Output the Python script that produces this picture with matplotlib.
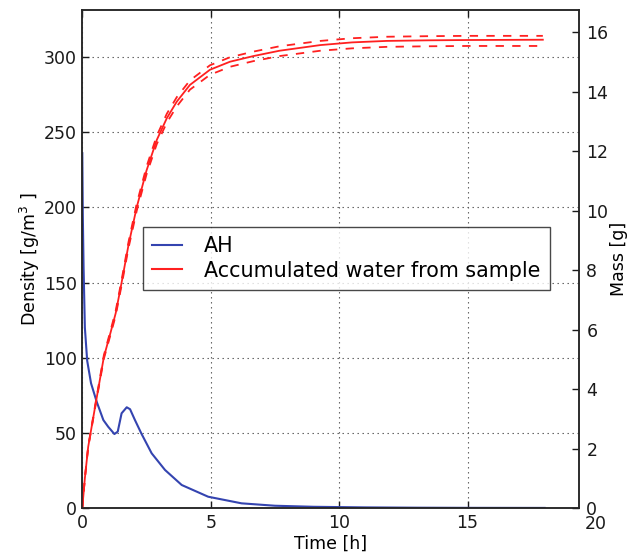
import matplotlib
matplotlib.use("Agg")
import matplotlib.pyplot as plt
from matplotlib.lines import Line2D

plt.rcParams['font.family'] = ['DejaVu Sans']
plt.rcParams['lines.scale_dashes'] = False

# AH (absolute humidity), left axis
ah_time = [0.0, 0.01, 0.02, 0.05, 0.1, 0.19, 0.34, 0.56, 0.82, 1.01, 1.25, 1.38,
           1.53, 1.73, 1.86, 2.05, 2.31, 2.7, 3.22, 3.87, 4.9, 6.2, 7.5, 9.0,
           11.0, 13.0, 15.0, 18.0]
ah_density = [236, 215, 195, 160, 120, 98, 83, 70.7, 58.5, 54, 49.2, 50.8,
              63, 67, 65.7, 58.5, 49.2, 36.4, 25.3, 15.3, 7.5, 3.1, 1.5, 0.8,
              0.4, 0.2, 0.1, 0.05]

# accumulated water (right axis), with upper / lower bounds
acc_time = [0, 0.1, 0.23, 0.5, 0.84, 1.1, 1.3, 1.53, 1.8, 2.12, 2.5, 2.9, 3.29,
            3.68, 4.19, 4.97, 5.75, 6.66, 7.68, 9.27, 10.5, 11.85, 13.5, 15.0,
            16.5, 17.93]
acc_mass = [0, 1.0, 2.06, 3.41, 5.08, 5.9, 6.55, 7.58, 8.85, 10.12, 11.35, 12.38,
            13.11, 13.67, 14.23, 14.74, 15.01, 15.2, 15.38, 15.57, 15.66, 15.71,
            15.73, 15.74, 15.745, 15.75]
acc_upper = [0, 1.01, 2.08, 3.45, 5.14, 5.97, 6.63, 7.67, 8.95, 10.24, 11.48,
             12.52, 13.26, 13.82, 14.38, 14.89, 15.16, 15.35, 15.53, 15.71, 15.80,
             15.85, 15.87, 15.88, 15.88, 15.88]
acc_lower = [0, 0.99, 2.04, 3.37, 5.02, 5.83, 6.47, 7.49, 8.75, 10.0, 11.22,
             12.24, 12.96, 13.51, 14.07, 14.57, 14.84, 15.03, 15.2, 15.38, 15.46,
             15.51, 15.53, 15.54, 15.54, 15.54]

blue = '#3444b0'
red = '#ff2020'

fig = plt.figure(figsize=(6.35, 5.55), dpi=100)
ax = fig.add_axes([0.1296, 0.0847, 0.7827, 0.8973])
ax2 = ax.twinx()

ax.plot(ah_time, ah_density, color=blue, lw=1.5)
ax2.plot(acc_time, acc_mass, color=red, lw=1.3)
ax2.plot(acc_time, acc_upper, color=red, lw=1.3, dashes=(6, 6))
ax2.plot(acc_time, acc_lower, color=red, lw=1.3, dashes=(6, 6))

ax.set_xlim(0, 19.35)
ax.set_ylim(0, 331.3)
ax2.set_ylim(0, 16.75)
ax.set_xticks([0, 5, 10, 15])
ax.set_yticks([0, 50, 100, 150, 200, 250, 300])
ax2.set_yticks([0, 2, 4, 6, 8, 10, 12, 14, 16])

ax.grid(True, color='0.35', lw=0.8, dashes=(1, 2.6))

for a in (ax, ax2):
    for s in a.spines.values():
        s.set_color('0.15')
        s.set_linewidth(1.1)
ax.tick_params(direction='in', length=5, width=1, labelsize=12.5, pad=4,
               top=True, colors='0.1')
ax2.tick_params(direction='in', length=5, width=1, labelsize=12.5, pad=5,
                colors='0.1')

# the "20" tick label sits past the right spine in the original
ax.annotate('20', xy=(20, 0), xycoords=('data', 'axes fraction'),
            xytext=(0, -5), textcoords='offset points', ha='center', va='top',
            fontsize=12.5, color='0.1', annotation_clip=False)

ax.set_xlabel('Time [h]', fontsize=12.5, labelpad=2)
ax.set_ylabel('Density [g/m$^3$ ]', fontsize=12.5, labelpad=1)
ax2.set_ylabel('Mass [g]', fontsize=12.5, labelpad=1)

handles = [Line2D([], [], color=blue, lw=1.5),
           Line2D([], [], color=red, lw=1.5)]
leg = ax2.legend(handles, ['AH', 'Accumulated water from sample'],
                 loc='upper left', bbox_to_anchor=(0.122, 0.564),
                 borderaxespad=0, fontsize=14.9, fancybox=False,
                 handlelength=1.45, handletextpad=1.05, borderpad=0.45,
                 labelspacing=0.2)
leg.get_frame().set_edgecolor('0.1')
leg.get_frame().set_linewidth(1.0)

fig.savefig('out.png', dpi=100)
